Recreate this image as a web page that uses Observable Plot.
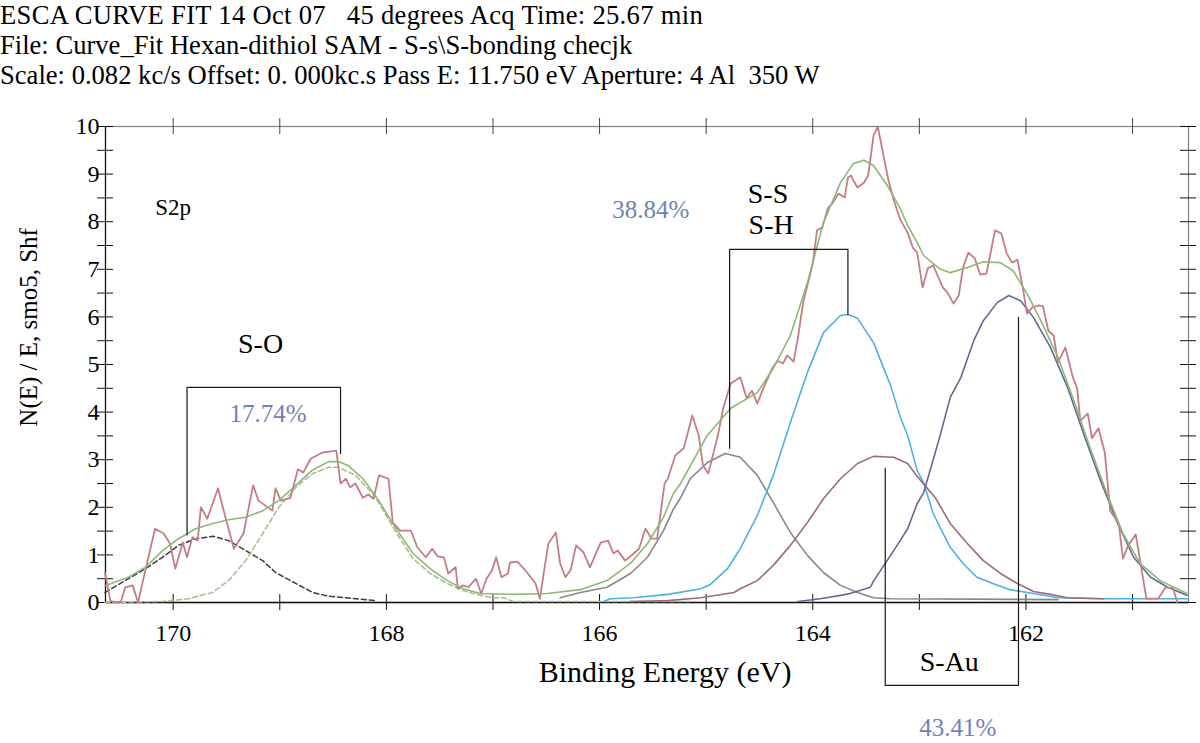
<!DOCTYPE html>
<html>
<head>
<meta charset="utf-8">
<script src="https://cdn.jsdelivr.net/npm/d3@7"></script>
<script src="https://cdn.jsdelivr.net/npm/@observablehq/plot@0.6"></script>
<style>
  html, body { margin: 0; padding: 0; background: #fff; }
  #title div { font-family: "Liberation Serif", serif; font-size: 26.6px; line-height: 30px; height: 30px; white-space: pre; color: #000; }
  #title div:first-child { letter-spacing: 0.3px; }
  #chart svg { display: block; }
  #chart svg text { font-family: "Liberation Serif", serif; }
</style>
</head>
<body>
<div id="title"></div>
<div id="chart"></div>
<script>
const titleLines = [
  "ESCA CURVE FIT 14 Oct 07   45 degrees Acq Time: 25.67 min",
  "File: Curve_Fit Hexan-dithiol SAM - S-s\\S-bonding checjk",
  "Scale: 0.082 kc/s Offset: 0. 000kc.s Pass E: 11.750 eV Aperture: 4 Al  350 W"
];
const xLabel = "Binding Energy (eV)";
const yLabel = "N(E) / E, smo5, Shf";

const xDomain = [170.635, 160.475];
const yDomain = [0, 10];
const xMajorTicks = [170, 169, 168, 167, 166, 165, 164, 163, 162, 161];
const xLabelTicks = [170, 168, 166, 164, 162];
const yLabelTicks = [0, 1, 2, 3, 4, 5, 6, 7, 8, 9, 10];
const yMinorTicks = [0, 0.5, 1, 1.5, 2, 2.5, 3, 3.5, 4, 4.5, 5, 5.5, 6, 6.5, 7, 7.5, 8, 8.5, 9, 9.5, 10];

// raw spectrum [binding energy, intensity]
const rawData = [
  [170.64,0.63],[170.59,0.04],[170.54,0.00],[170.49,0.02],[170.45,0.32],[170.38,0.36],[170.33,0.00],
  [170.24,0.88],[170.17,1.55],[170.09,1.45],[170.03,1.24],[169.98,0.71],[169.91,1.26],[169.87,0.95],
  [169.82,1.37],[169.77,1.30],[169.74,2.00],[169.68,1.76],[169.58,2.40],[169.51,1.79],[169.43,1.13],
  [169.34,1.45],[169.25,2.46],[169.20,2.14],[169.07,1.93],[169.04,2.40],[168.99,2.14],[168.90,2.20],
  [168.83,2.80],[168.78,2.73],[168.71,3.02],[168.60,3.15],[168.47,3.19],[168.43,2.50],[168.38,2.60],
  [168.34,2.42],[168.29,2.50],[168.22,2.20],[168.17,2.27],[168.12,2.18],[168.07,2.67],[167.98,2.60],
  [167.94,1.68],[167.87,1.51],[167.77,1.51],[167.71,1.16],[167.63,0.95],[167.57,1.13],[167.52,0.97],
  [167.46,0.95],[167.42,0.61],[167.35,0.74],[167.33,0.29],[167.28,0.36],[167.23,0.32],[167.16,0.50],
  [167.11,0.19],[167.06,0.50],[167.01,0.67],[166.97,0.95],[166.92,0.53],[166.86,0.61],[166.84,0.84],
  [166.77,0.86],[166.68,0.63],[166.60,0.40],[166.56,0.08],[166.53,0.53],[166.48,1.24],[166.41,1.47],
  [166.37,0.82],[166.32,0.53],[166.27,0.69],[166.22,1.20],[166.15,1.05],[166.09,0.74],[165.99,1.26],
  [165.92,1.30],[165.87,1.03],[165.83,1.09],[165.76,0.88],[165.68,1.03],[165.63,1.13],[165.57,1.55],
  [165.51,1.34],[165.46,1.34],[165.39,2.50],[165.36,2.60],[165.29,3.09],[165.21,3.24],[165.13,3.93],
  [165.07,3.51],[165.03,2.88],[164.98,2.71],[164.89,3.51],[164.84,4.08],[164.77,4.60],[164.68,4.73],
  [164.62,4.29],[164.57,4.45],[164.52,4.18],[164.46,4.52],[164.38,4.92],[164.33,5.08],[164.28,5.02],
  [164.24,5.19],[164.18,5.06],[164.14,5.55],[164.09,6.30],[164.00,7.12],[163.96,7.82],[163.91,7.88],
  [163.86,8.28],[163.81,8.40],[163.76,8.59],[163.70,8.51],[163.67,8.93],[163.64,8.97],[163.62,8.87],
  [163.58,8.72],[163.52,8.82],[163.48,8.97],[163.43,9.81],[163.39,10.00],[163.35,9.54],[163.29,8.87],
  [163.24,8.45],[163.18,8.05],[163.11,7.77],[163.06,7.45],[163.02,7.35],[162.97,6.62],[162.92,7.02],
  [162.87,7.08],[162.78,6.62],[162.73,6.49],[162.68,6.28],[162.63,6.45],[162.59,7.04],[162.54,7.35],
  [162.48,7.23],[162.43,6.89],[162.37,6.91],[162.29,7.82],[162.23,7.75],[162.18,7.33],[162.13,7.14],
  [162.08,7.20],[162.03,6.62],[161.99,6.07],[161.94,6.20],[161.88,6.24],[161.84,6.22],[161.79,5.71],
  [161.74,5.61],[161.70,5.04],[161.63,5.36],[161.56,4.73],[161.52,4.50],[161.49,3.82],[161.42,3.97],
  [161.38,3.45],[161.32,3.66],[161.26,3.15],[161.21,1.93],[161.13,1.66],[161.09,0.92],[161.04,1.20],
  [160.97,1.43],[160.87,0.08],[160.76,0.08],[160.69,0.32],[160.62,0.30],[160.58,0.00]
];

// total fit envelope
const envelopeData = [
  [170.64,0.35],[170.42,0.53],[170.26,0.74],[170.10,1.09],[169.95,1.34],[169.79,1.55],[169.63,1.66],
  [169.48,1.74],[169.32,1.79],[169.16,1.93],[169.01,2.14],[168.85,2.46],[168.69,2.79],[168.54,2.96],
  [168.45,2.96],[168.36,2.88],[168.22,2.60],[168.07,2.14],[167.93,1.62],[167.75,1.03],[167.59,0.71],
  [167.43,0.46],[167.28,0.29],[167.12,0.19],[166.81,0.17],[166.49,0.19],[166.18,0.27],[165.93,0.46],
  [165.71,0.82],[165.55,1.24],[165.40,1.79],[165.31,2.28],[165.24,2.50],[164.99,3.51],[164.77,4.08],
  [164.52,4.41],[164.37,4.92],[164.21,5.61],[164.05,6.72],[163.90,7.98],[163.74,8.82],[163.62,9.22],
  [163.52,9.29],[163.43,9.18],[163.30,8.76],[163.18,8.28],[163.11,7.92],[163.02,7.56],[162.96,7.29],
  [162.87,7.12],[162.80,7.00],[162.71,6.93],[162.55,7.04],[162.40,7.16],[162.24,7.14],[162.12,6.97],
  [161.99,6.49],[161.86,5.92],[161.70,5.15],[161.55,4.24],[161.40,3.26],[161.24,2.29],[161.09,1.45],
  [160.93,0.82],[160.74,0.46],[160.49,0.19]
];

// S-O components
const soPeakA = [
  [170.64,0.21],[170.42,0.50],[170.26,0.71],[170.10,0.95],[169.95,1.20],[169.79,1.34],[169.62,1.39],
  [169.48,1.30],[169.32,1.09],[169.16,0.88],[169.04,0.63],[168.85,0.40],[168.69,0.21],[168.54,0.13],
  [168.38,0.10],[168.10,0.04]
];
const soPeakB = [
  [170.64,0.00],[170.10,0.02],[169.86,0.08],[169.63,0.21],[169.48,0.46],[169.32,0.88],[169.16,1.45],
  [169.01,2.00],[168.85,2.42],[168.69,2.71],[168.54,2.84],[168.45,2.84],[168.29,2.67],[168.13,2.29],
  [168.06,2.05],[167.93,1.55],[167.75,0.92],[167.59,0.61],[167.43,0.40],[167.28,0.25],[167.12,0.15],
  [167.00,0.10],[166.90,0.10],[166.81,0.02],[165.13,0.02]
];

// S-S / S-H components
const ssPeak = [
  [166.37,0.10],[166.18,0.21],[165.93,0.32],[165.71,0.61],[165.55,0.95],[165.40,1.51],[165.31,1.95],
  [165.24,2.20],[165.15,2.60],[164.99,2.94],[164.82,3.13],[164.68,3.05],[164.52,2.67],[164.37,2.10],
  [164.21,1.47],[164.05,0.99],[163.90,0.63],[163.74,0.36],[163.58,0.21],[163.43,0.10],[163.27,0.08],
  [161.70,0.06]
];
const shPeak = [
  [165.96,0.02],[165.90,0.08],[165.68,0.10],[165.36,0.17],[165.05,0.29],[164.96,0.38],[164.80,0.71],
  [164.68,1.13],[164.52,1.83],[164.37,2.67],[164.21,3.78],[164.05,4.83],[163.90,5.67],[163.74,6.03],
  [163.67,6.05],[163.58,5.97],[163.43,5.46],[163.27,4.56],[163.18,3.90],[163.11,3.51],[163.02,2.77],
  [162.96,2.52],[162.87,1.87],[162.80,1.55],[162.71,1.16],[162.59,0.82],[162.46,0.53],[162.31,0.40],
  [162.15,0.27],[161.93,0.19],[161.70,0.10],[161.30,0.08],[160.48,0.08]
];

// S-Au components
const auPeakA = [
  [165.71,0.02],[165.36,0.04],[165.05,0.10],[164.74,0.21],[164.68,0.29],[164.52,0.46],[164.37,0.78],
  [164.21,1.20],[164.05,1.68],[163.90,2.18],[163.74,2.60],[163.58,2.92],[163.43,3.07],[163.24,3.05],
  [163.11,2.92],[163.02,2.65],[162.85,2.20],[162.71,1.66],[162.55,1.24],[162.40,0.88],[162.24,0.61],
  [162.08,0.40],[161.93,0.23],[161.77,0.17],[161.61,0.10],[161.27,0.08]
];
const auPeakB = [
  [164.14,0.02],[163.93,0.08],[163.74,0.15],[163.65,0.19],[163.46,0.32],[163.43,0.45],[163.27,0.99],
  [163.18,1.30],[163.11,1.55],[163.02,2.08],[162.96,2.31],[162.87,3.00],[162.80,3.55],[162.71,4.31],
  [162.61,4.73],[162.49,5.50],[162.40,5.92],[162.27,6.30],[162.16,6.45],[162.05,6.34],[161.93,5.99],
  [161.77,5.36],[161.61,4.52],[161.46,3.55],[161.30,2.56],[161.14,1.66],[160.99,0.95],[160.83,0.53],
  [160.67,0.32],[160.49,0.15]
];

// annotation brackets
const bracketSO = [[169.87,1.42],[169.87,4.52],[168.43,4.52],[168.43,3.13]];
const bracketSS = [[164.78,3.24],[164.78,7.42],[163.67,7.42],[163.67,6.05]];
const bracketAu = [[163.32,2.82],[163.32,-1.74],[162.07,-1.74],[162.07,5.99]];

// annotation labels
const peakLabels = [
  {text: "S2p", x: 170.0, y: 8.30, size: 23},
  {text: "S-O", x: 169.18, y: 5.44, size: 28},
  {text: "S-S", x: 164.42, y: 8.59, size: 28},
  {text: "S-H", x: 164.39, y: 7.92, size: 28},
  {text: "S-Au", x: 162.72, y: -1.26, size: 28}
];
const percentLabels = [
  {text: "17.74%", x: 169.11, y: 3.97},
  {text: "38.84%", x: 165.52, y: 8.24},
  {text: "43.41%", x: 162.64, y: -2.63}
];
const yLabelCenter = 5.78; // vertical centre of the y-axis title, in data units

const colors = {
  raw: "#c67c86", envelope: "#8db874", soA: "#3c3c3c", soB: "#a3bf86",
  ss: "#8a8590", sh: "#4fb1e3", auA: "#9c6b7e", auB: "#626a92",
  percent: "#7281b8", bracket: "#1a1a1a", axis: "#111", frame: "#808080"
};
const serif = "Liberation Serif";

// layout
const W = 1200, H = 653, mL = 105, mR = 12, mT = 36, mB = 141;
const tickHalf = 8; // px
const tickDY = tickHalf * (yDomain[1] - yDomain[0]) / (H - mT - mB);
const tickDX = tickHalf * (xDomain[0] - xDomain[1]) / (W - mL - mR);

document.getElementById("title").innerHTML = titleLines.map(() => "<div></div>").join("");
document.querySelectorAll("#title div").forEach((el, i) => el.textContent = titleLines[i]);

const X = d => d[0], Y = d => d[1];
const lineOf = (data, stroke, extra = {}) => Plot.line(data, {x: X, y: Y, stroke, strokeWidth: 1.6, ...extra});

const chart = Plot.plot({
  width: W,
  height: H,
  marginLeft: mL,
  marginRight: mR,
  marginTop: mT,
  marginBottom: mB,
  style: {fontFamily: "'Liberation Serif', serif", fontSize: "24px", color: "#000", background: "#fff", overflow: "visible"},
  x: {domain: xDomain, axis: null},
  y: {domain: yDomain, axis: null},
  marks: [
    Plot.frame({stroke: colors.frame, strokeWidth: 1.2}),
    Plot.ruleY([yDomain[0]], {stroke: colors.axis, strokeWidth: 1.5}),
    Plot.ruleX([xDomain[0]], {stroke: colors.axis, strokeWidth: 1.2}),
    // crossing tick marks on all four sides
    Plot.ruleX(xMajorTicks, {x: d => d, y1: yDomain[0] - tickDY, y2: yDomain[0] + tickDY, stroke: colors.axis}),
    Plot.ruleX(xMajorTicks, {x: d => d, y1: yDomain[1] - tickDY, y2: yDomain[1] + tickDY, stroke: "#444"}),
    Plot.ruleY(yMinorTicks, {y: d => d, x1: xDomain[0] + tickDX, x2: xDomain[0] - tickDX, stroke: colors.axis}),
    Plot.ruleY(yMinorTicks, {y: d => d, x1: xDomain[1] + tickDX, x2: xDomain[1] - tickDX, stroke: colors.axis}),
    // tick labels
    Plot.text(xLabelTicks, {x: d => d, text: d => String(d), frameAnchor: "bottom", lineAnchor: "middle", textAnchor: "middle", dy: 31, fontSize: 24, fontFamily: serif, fill: "#000"}),
    Plot.text(yLabelTicks, {y: d => d, text: d => String(d), frameAnchor: "left", lineAnchor: "middle", textAnchor: "end", dx: -6, fontSize: 24, fontFamily: serif, fill: "#000"}),
    // curves
    lineOf(soPeakA, colors.soA, {strokeDasharray: "5,3", strokeWidth: 1.5}),
    lineOf(soPeakB, colors.soB, {strokeDasharray: "5,3", strokeWidth: 1.5}),
    lineOf(ssPeak, colors.ss),
    lineOf(shPeak, colors.sh),
    lineOf(auPeakA, colors.auA),
    lineOf(auPeakB, colors.auB),
    lineOf(rawData, colors.raw, {strokeWidth: 1.8}),
    lineOf(envelopeData, colors.envelope),
    lineOf(bracketSO, colors.bracket, {strokeWidth: 1.2}),
    lineOf(bracketSS, colors.bracket, {strokeWidth: 1.2}),
    lineOf(bracketAu, colors.bracket, {strokeWidth: 1.2}),
    Plot.text(peakLabels, {x: "x", y: "y", text: "text", fontSize: d => d.size, fontFamily: serif, fill: "#000"}),
    Plot.text(percentLabels, {x: "x", y: "y", text: "text", fontSize: 25, fontFamily: serif, fill: colors.percent}),
    Plot.text([xLabel], {frameAnchor: "bottom", lineAnchor: "middle", textAnchor: "middle", dx: 18, dy: 70, fontSize: 30, fontFamily: serif, fill: "#000"}),
    Plot.text([yLabel], {frameAnchor: "left", y: () => yLabelCenter, textAnchor: "middle", lineAnchor: "middle", dx: -77, rotate: -90, fontSize: 25, fontFamily: serif, fill: "#000"})
  ]
});
document.getElementById("chart").appendChild(chart);
</script>
</body>
</html>
